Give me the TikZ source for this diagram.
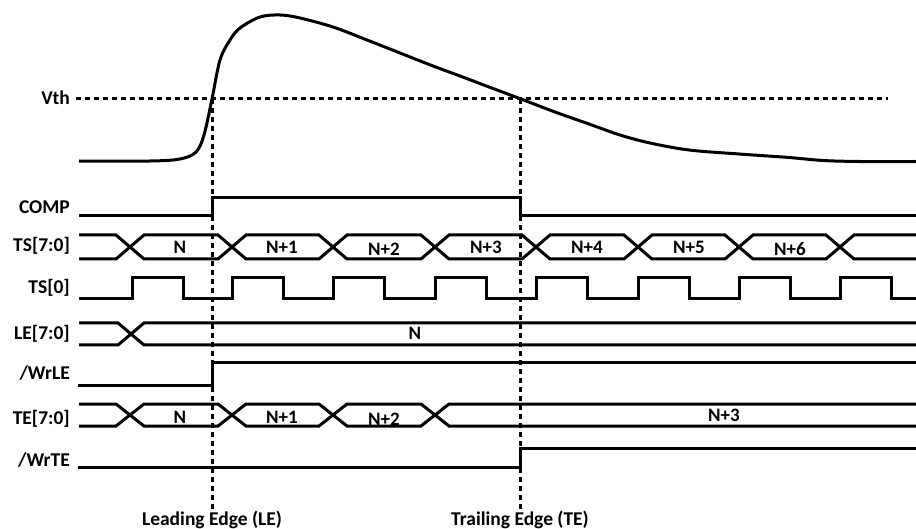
\documentclass[tikz,border=0pt]{standalone}
\usepackage{fontspec}
\setmainfont{Carlito}

\tikzset{
  sig/.style={line width=3pt, line join=miter},
  guide/.style={line width=3pt, dash pattern=on 5pt off 4pt},
  lbl/.style={font=\fontsize{19.5}{22}\selectfont\bfseries, anchor=base east, inner sep=0pt},
  val/.style={font=\fontsize{19}{21}\selectfont\bfseries, anchor=base, inner sep=0pt},
  edgelbl/.style={font=\fontsize{19.5}{22}\selectfont\bfseries, anchor=base, inner sep=0pt},
}

\begin{document}
\begin{tikzpicture}[x=1pt, y=-1pt]

    \useasboundingbox (0,0) rectangle (916,529);

    % Nodes
    \node (vth)   [lbl] at (70,105) {Vth};
    \node (comp)  [lbl] at (70,214) {COMP};
    \node (ts)    [lbl] at (70,252) {TS[7:0]};
    \node (tsz)   [lbl] at (70,294) {TS[0]};
    \node (le)    [lbl] at (70,340) {LE[7:0]};
    \node (wrle)  [lbl] at (70,380) {/WrLE};
    \node (te)    [lbl] at (70,424) {TE[7:0]};
    \node (wrte)  [lbl] at (70,466) {/WrTE};

    \node (ts0) [val] at (180,254) {N};
    \node (ts1) [val] at (282,254) {N+1};
    \node (ts2) [val] at (384,256) {N+2};
    \node (ts3) [val] at (486,254) {N+3};
    \node (ts4) [val] at (587,254) {N+4};
    \node (ts5) [val] at (689,254) {N+5};
    \node (ts6) [val] at (790,256) {N+6};
    \node (le0) [val] at (415,340) {N};
    \node (te0) [val] at (180,423) {N};
    \node (te1) [val] at (282,423) {N+1};
    \node (te2) [val] at (384,425) {N+2};
    \node (te3) [val] at (724,421) {N+3};

    \node (lead)  [edgelbl] at (212,525) {Leading Edge (LE)};
    \node (trail) [edgelbl] at (520,525) {Trailing Edge (TE)};

    % Edges
    \coordinate (leadtop)  at (212,99);
    \coordinate (leadbot)  at (212,510);
    \coordinate (trailtop) at (520,99);
    \coordinate (trailbot) at (520,510);
    \coordinate (vthl) at (76,99);
    \coordinate (vthr) at (888,99);

    % Pulse
    \draw[sig] plot[smooth, tension=0.55] coordinates {
        (79,161) (150,161) (180,159) (196,152) (204,135) (212,99)
        (220,60) (230,40) (240,28) (260,17) (280,15) (300,18)
        (333,27) (367,40) (400,53) (433,66) (460,76) (489,87)
        (521,99) (555,112) (589,124) (620,135) (650,143) (689,150)
        (739,154) (789,157.5) (823,160.5) (860,161.5) (916,161.5)};

    % Dashed guides
    \draw[guide] (vthl) -- (vthr);
    \draw[guide] (leadtop) -- (leadbot);
    \draw[guide] (trailtop) -- (trailbot);

    % COMP
    \draw[sig] (79,216) -- (212,216) -- (212,198) -- (520,198) -- (520,216) -- (916,216);

    % TS[7:0]
    \draw[sig] (79,235) -- (116,235) -- (144,259) -- (218,259) -- (246,235) -- (319,235)
               -- (347,259) -- (421,259) -- (449,235) -- (522,235) -- (550,259) -- (624,259)
               -- (652,235) -- (725,235) -- (753,259) -- (826,259) -- (854,235) -- (916,235);
    \draw[sig] (79,259) -- (116,259) -- (144,235) -- (218,235) -- (246,259) -- (319,259)
               -- (347,235) -- (421,235) -- (449,259) -- (522,259) -- (550,235) -- (624,235)
               -- (652,259) -- (725,259) -- (753,235) -- (826,235) -- (854,259) -- (916,259);

    % TS[0]
    \draw[sig] (79,299) -- (132,299) -- (132,278) -- (183,278) -- (183,299) -- (232,299)
               -- (232,278) -- (283,278) -- (283,299) -- (333,299) -- (333,278) -- (384,278)
               -- (384,299) -- (435,299) -- (435,278) -- (486,278) -- (486,299) -- (536,299)
               -- (536,278) -- (587,278) -- (587,299) -- (638,299) -- (638,278) -- (689,278)
               -- (689,299) -- (739,299) -- (739,278) -- (790,278) -- (790,299) -- (840,299)
               -- (840,278) -- (891,278) -- (891,299) -- (916,299);

    % LE[7:0]
    \draw[sig] (79,323) -- (118,323) -- (144,345) -- (916,345);
    \draw[sig] (79,345) -- (118,345) -- (144,323) -- (916,323);

    % /WrLE
    \draw[sig] (78,385) -- (212,385) -- (212,363) -- (916,363);

    % TE[7:0]
    \draw[sig] (79,404) -- (116,404) -- (144,426) -- (218,426) -- (246,404) -- (319,404)
               -- (347,426) -- (421,426) -- (449,404) -- (916,404);
    \draw[sig] (79,426) -- (116,426) -- (144,404) -- (218,404) -- (246,426) -- (319,426)
               -- (347,404) -- (421,404) -- (449,426) -- (916,426);

    % /WrTE
    \draw[sig] (78,467) -- (520,467) -- (520,448) -- (916,448);

\end{tikzpicture}
\end{document}
